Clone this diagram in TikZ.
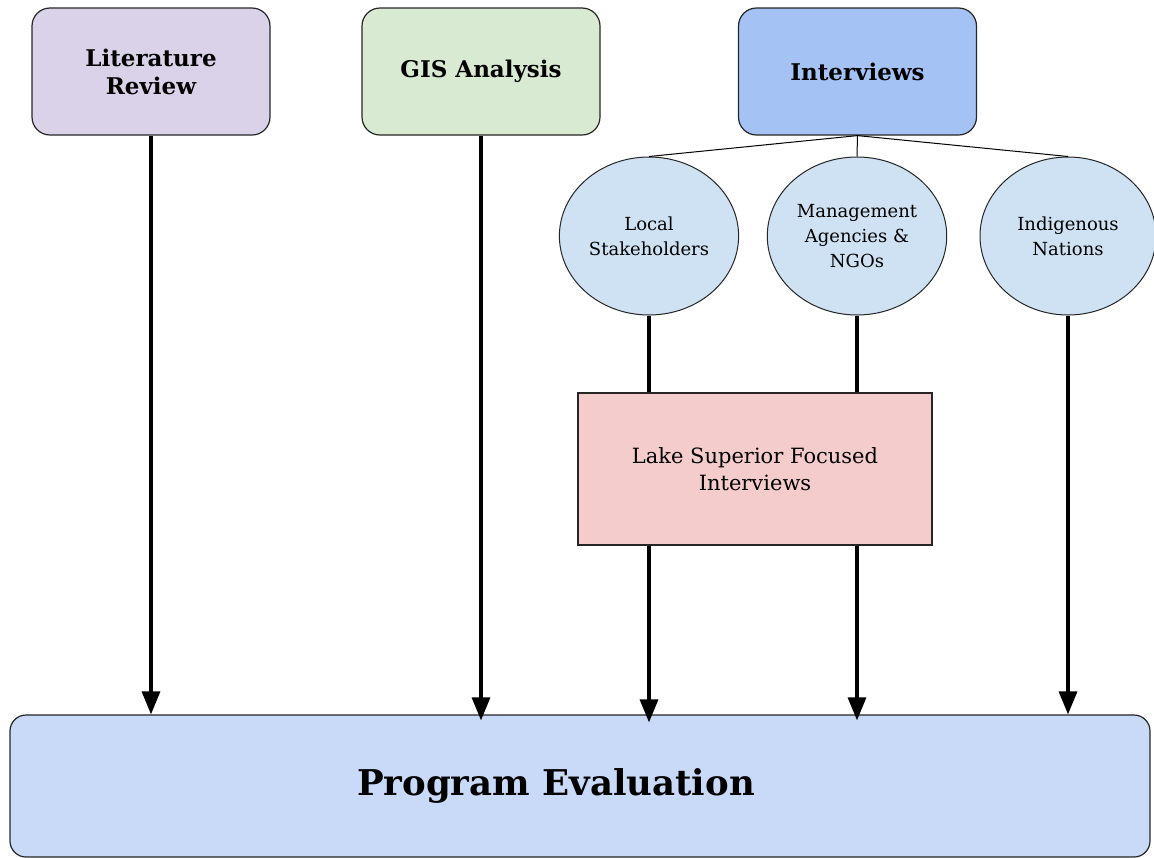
\documentclass[tikz,border=0pt]{standalone}
\usepackage{fontspec}
\setmainfont{DejaVu Serif}
\usetikzlibrary{shapes.geometric,arrows.meta}
\definecolor{litfill}{HTML}{D9D2E9}
\definecolor{gisfill}{HTML}{D9EAD3}
\definecolor{intfill}{HTML}{A4C2F4}
\definecolor{grpfill}{HTML}{CFE2F3}
\definecolor{lakefill}{HTML}{F4CCCC}
\definecolor{evalfill}{HTML}{C9DAF8}
\begin{document}
\begin{tikzpicture}[x=1pt,y=-1pt,>={Triangle[width=18pt,length=23pt]},
  topbox/.style={draw=black!85,line width=1.2pt,rounded corners=18pt,minimum width=238pt,minimum height=127pt,align=center,font=\fontsize{23}{28}\selectfont\bfseries},
  group/.style={draw=black!85,line width=1pt,ellipse,fill=grpfill,minimum width=176pt,minimum height=158pt,align=center,font=\fontsize{18}{25}\selectfont},
  flow/.style={->,line width=3.2pt},
  branch/.style={line width=1pt}]
\useasboundingbox (0,0) rectangle (1154,857);
\node[topbox,fill=litfill] (lit) at (151,71.5) {Literature\\Review};
\node[topbox,fill=gisfill] (gis) at (481,71.5) {GIS Analysis};
\node[topbox,fill=intfill] (intv) at (857.5,71.5) {Interviews};
\node[group] (local) at (649,236) {Local\\Stakeholders};
\node[group] (mgmt) at (857,236) {Management\\Agencies \&\\NGOs};
\node[group] (indig) at (1068,236) {Indigenous\\Nations};
\node[draw=black!85,line width=1.2pt,fill=lakefill,minimum width=354pt,minimum height=152pt,align=center,font=\fontsize{21}{27}\selectfont] (lake) at (755,469) {Lake Superior Focused\\Interviews};
\node[draw=black!85,line width=1.2pt,fill=evalfill,rounded corners=16pt,minimum width=1140pt,minimum height=142pt,font=\fontsize{35.5}{40}\selectfont\bfseries] (eval) at (580,786) {\raisebox{-3pt}{Program Evaluation}\hspace*{48pt}};
\draw[branch] (intv.south) -- (local.north);
\draw[branch] (intv.south) -- (mgmt.north);
\draw[branch] (intv.south) -- (indig.north);
\draw[line width=3.2pt] (local.south) -- (local.south |- lake.north);
\draw[line width=3.2pt] (mgmt.south) -- (mgmt.south |- lake.north);
\draw[flow] (lit.south) -- (lit.south |- eval.north);
\draw[flow] (gis.south) -- ([yshift=-6pt]gis.south |- eval.north);
\draw[flow] (local.south |- lake.south) -- ([yshift=-8pt]local.south |- eval.north);
\draw[flow] (mgmt.south |- lake.south) -- ([yshift=-6pt]mgmt.south |- eval.north);
\draw[flow] (indig.south) -- (indig.south |- eval.north);
\end{tikzpicture}
\end{document}
